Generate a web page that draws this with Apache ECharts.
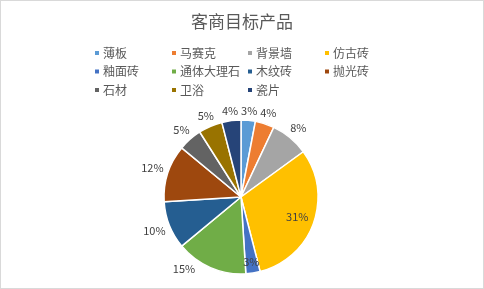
<!DOCTYPE html>
<html><head><meta charset="utf-8">
<script src="https://cdn.jsdelivr.net/npm/echarts@6/dist/echarts.min.js"></script>
<style>html,body{margin:0;padding:0;background:#fff}#c{width:484px;height:289px;box-sizing:border-box;border:1px solid #d9d9d9}</style>
</head><body><div id="c"></div>
<script>
const title = '客商目标产品';
const categories = ['薄板','马赛克','背景墙','仿古砖','釉面砖','通体大理石','木纹砖','抛光砖','石材','卫浴','瓷片'];
const values = [3,4,8,31,3,15,10,12,5,5,4];
const colors = ['#5B9BD5','#ED7D31','#A5A5A5','#FFC000','#4472C4','#70AD47','#255E91','#9E480E','#636363','#997300','#264478'];
const labelModes = ['outside','outside','outside','inside','inside','outside','outside','outside','outside','outside','outside'];
const legendCols = [['薄板','釉面砖','石材'],['马赛克','通体大理石','卫浴'],['背景墙','木纹砖','瓷片'],['仿古砖','抛光砖']];
const legendX = [92,169,245,322];

const CX = 240, CY = 196, R = 77, GAP = 4, GAP_IN = 5;
const total = values.reduce((a,b)=>a+b,0);
const cum = []; values.reduce((a,v,i)=>{cum[i]=a; return a+v;},0);

const chart = echarts.init(document.getElementById('c'));
const data = categories.map((n,i)=>{
  const d = {name:n, value:values[i], itemStyle:{color:colors[i]}};
  if (labelModes[i]==='inside') d.label = {position:'inside'};
  return d;
});
function layoutLabel(p){
  const i = p.dataIndex, w = p.labelRect.width, h = p.labelRect.height*0.9;
  const mode = labelModes[i];
  let th = (cum[i] + values[i]/2) / total * 2 * Math.PI;
  const place = t => {
    const ux = Math.sin(t), uy = -Math.cos(t);
    const ext = Math.abs(ux)*w/2 + Math.abs(uy)*h/2;
    const d = mode==='inside' ? R - GAP_IN - ext : R + GAP + ext;
    return [CX + ux*d, CY + uy*d];
  };
  let pt = place(th);
  if (mode==='outside') {
    let k = 0;
    while (pt[1] + h/2 > CY + R && k < 90) { th += (Math.sin(th) < 0 ? 1 : -1) * Math.PI/180; pt = place(th); k++; }
  }
  return {x:pt[0], y:pt[1], align:'center', verticalAlign:'middle'};
}
chart.setOption({
  animation:false,
  title:{text:title,left:'center',top:7,textStyle:{fontFamily:'Noto Sans CJK SC',fontSize:17,fontWeight:'normal',color:'#595959'}},
  legend: legendCols.map((col,i)=>({
    orient:'vertical', left:legendX[i], top:46, padding:0, itemGap:6.5, itemWidth:6, itemHeight:6, icon:'rect',
    data:col, selectedMode:false,
    textStyle:{fontFamily:'Noto Sans CJK SC',fontSize:12,color:'#595959',padding:[0,0,0,-2]}
  })),
  series:[{
    type:'pie', center:[CX,CY], radius:R, startAngle:90, clockwise:true,
    avoidLabelOverlap:false,
    data:data,
    itemStyle:{borderColor:'#fff',borderWidth:1.5},
    label:{show:true,position:'outside',formatter:'{c}%',fontFamily:'Noto Sans CJK SC',fontSize:11,fontWeight:'normal',color:'#404040',distanceToLabelLine:0},
    labelLine:{show:false,length:3,length2:0},
    labelLayout:layoutLabel
  }]
});
</script></body></html>
